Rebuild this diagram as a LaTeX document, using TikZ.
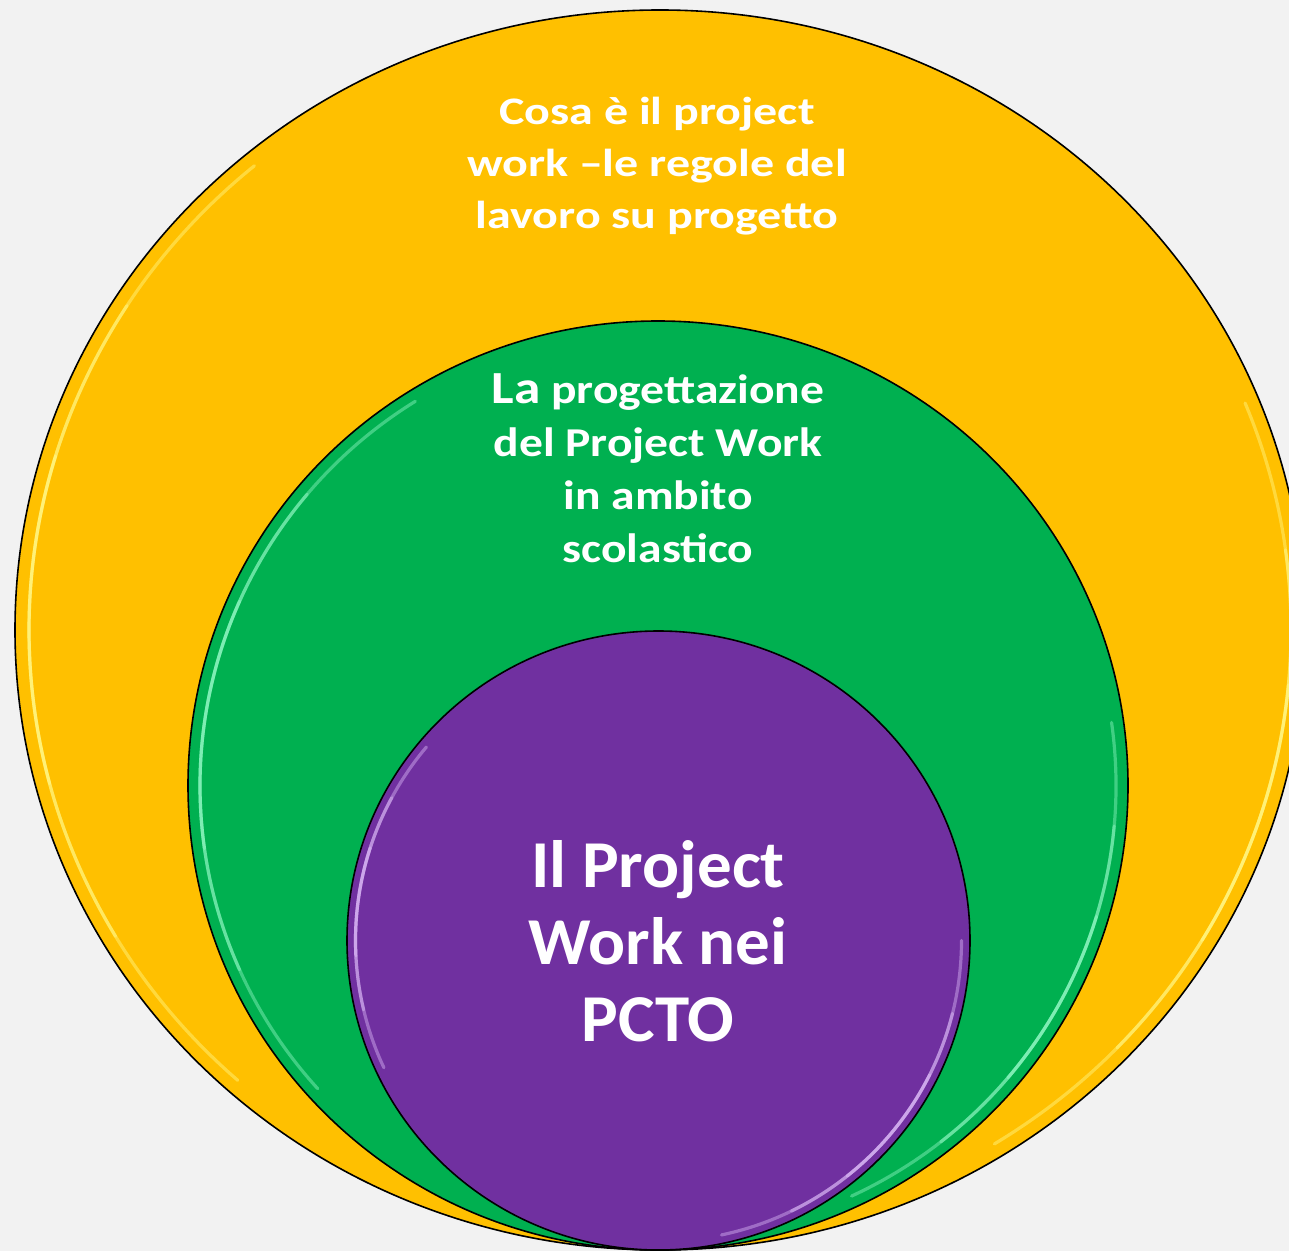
\documentclass[tikz,border=0pt]{standalone}
\usepackage{fontspec}
\setmainfont{Carlito}
\usetikzlibrary{shapes.geometric}
\definecolor{bgc}{HTML}{F2F2F2}
\definecolor{yel}{HTML}{FFC000}
\definecolor{grn}{HTML}{00B050}
\definecolor{pur}{HTML}{7030A0}
\definecolor{yelhi}{HTML}{FFFF99}
\definecolor{grnhi}{HTML}{A0FFD0}
\definecolor{purhi}{HTML}{E6C8FF}
\tikzset{
  disc/.style={ellipse, draw=black, line width=0.8pt, inner sep=0pt},
  label/.style={text=white, align=center, inner sep=0pt, transform shape}
}
% #1 centre, #2 x radius, #3 y radius, #4 start, #5 end, #6 colour
\newcommand\mkglint[6]{%
  \foreach \f in {0,0.18,0.34}{%
    \pgfmathsetmacro\sa{#4+\f*(#5-#4)}%
    \pgfmathsetmacro\ea{#5-\f*(#5-#4)}%
    \draw[draw=#6, line width=1.6pt, opacity=0.4, line cap=round]
      #1 ++(\sa:#2 and #3) arc[start angle=\sa, end angle=\ea, x radius=#2, y radius=#3];
  }%
}
\begin{document}
\begin{tikzpicture}
\path[use as bounding box, clip] (0pt,0pt) rectangle (644.5pt,-625.5pt);
\fill[bgc] (0pt,0pt) rectangle (644.5pt,-625.5pt);
% outer
\node[disc, fill=yel, minimum width=645pt, minimum height=620pt] (outer) at (330pt,-315pt) {};
\mkglint{(330pt,-315pt)}{315.5pt}{303pt}{130}{228}{yelhi}
\mkglint{(330pt,-315pt)}{315.5pt}{303pt}{-58}{22}{yelhi}
% green
\node[disc, fill=grn, minimum width=470pt, minimum height=464.5pt] (mid) at (329pt,-392.75pt) {};
\mkglint{(329pt,-392.75pt)}{229pt}{226.5pt}{122}{222}{grnhi}
\mkglint{(329pt,-392.75pt)}{229pt}{226.5pt}{-65}{8}{grnhi}
% purple
\node[disc, fill=pur, minimum width=311.5pt, minimum height=309.5pt] (inner) at (329.25pt,-470.25pt) {};
\mkglint{(329.25pt,-470.25pt)}{151.5pt}{150.5pt}{140}{205}{purhi}
\mkglint{(329.25pt,-470.25pt)}{151.5pt}{150.5pt}{-78}{0}{purhi}
% texts
\node[label, xscale=1.23, font=\bfseries\fontsize{19.5}{26}\selectfont] (t1) at (328.5pt,-83pt)
  {Cosa è il project\\work –le regole del\\lavoro su progetto};
\node[label, xscale=1.16, font=\bfseries\fontsize{20.5}{26.5}\selectfont] (t2) at (329pt,-234pt)
  {{\fontsize{23}{26.5}\selectfont La} progettazione\\del Project Work\\in ambito\\scolastico};
\node[label, xscale=1.03, font=\bfseries\fontsize{33.5}{38.5}\selectfont] (t3) at (329pt,-470.5pt)
  {Il Project\\Work nei\\PCTO};
\end{tikzpicture}
\end{document}
